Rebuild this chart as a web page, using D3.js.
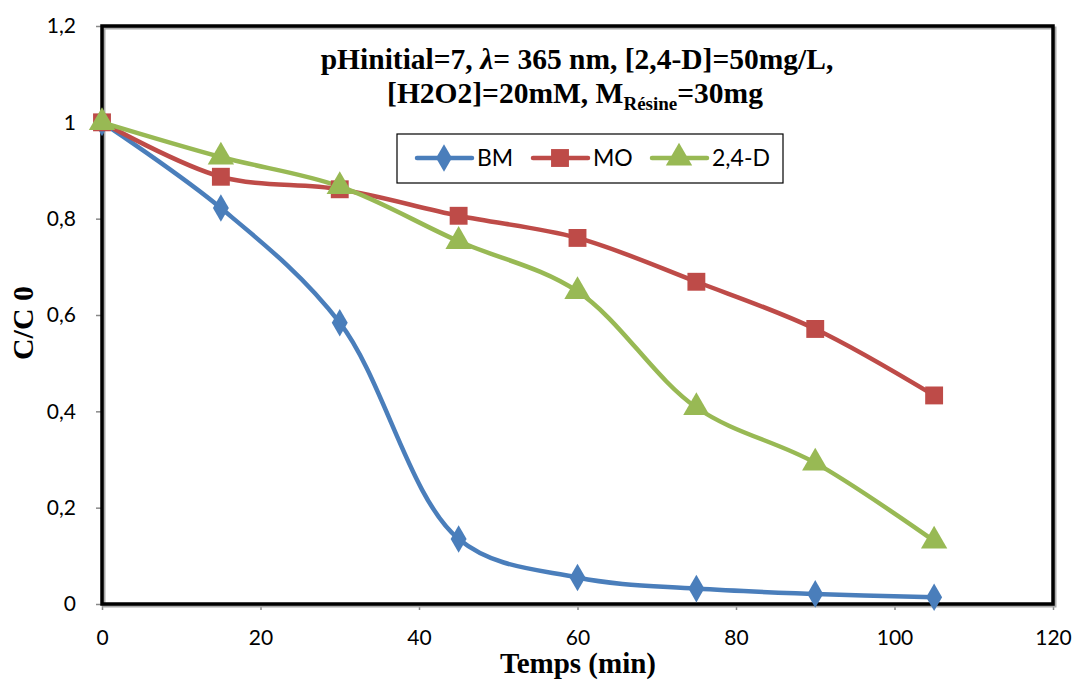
<!DOCTYPE html>
<html>
<head>
<meta charset="utf-8">
<script src="https://cdn.jsdelivr.net/npm/d3@7"></script>
<style>
body { margin: 0; background: #fff; }
svg { display: block; }
</style>
</head>
<body>
<svg id="chart"></svg>
<script>
// time points (min)
let temps = [0, 15, 30, 45, 60, 75, 90, 105]
// C/C0 for each pollutant
let bm = [1, 0.822, 0.584, 0.135, 0.055, 0.032, 0.021, 0.014]
let mo = [1, 0.887, 0.861, 0.806, 0.760, 0.669, 0.571, 0.433]
let dd = [1, 0.928, 0.867, 0.753, 0.649, 0.408, 0.293, 0.131]
let seriesNames = ['BM', 'MO', '2,4-D']
let xTicks = [0, 20, 40, 60, 80, 100, 120]
let yTicks = [0, 0.2, 0.4, 0.6, 0.8, 1, 1.2]

let width = 1077
let height = 681
let padLeft = 102, padRight = 1053, padTop = 26, padBottom = 604

let colors = ['#4A7EBB', '#BE4B48', '#98B954']
let shapes = [d3.symbolDiamond, d3.symbolSquare, d3.symbolTriangle]
let serif = '"Liberation Serif", "Times New Roman", serif'
let sans = 'Lato, "Open Sans", sans-serif'

let svg = d3.select('#chart').attr('width', width).attr('height', height)

let xScale = d3.scaleLinear().domain([0, 120]).range([padLeft, padRight])
let yScale = d3.scaleLinear().domain([0, 1.2]).range([padBottom, padTop])

let fmt = d => String(d).replace('.', ',')

// axes
let xAxis = d3.axisBottom(xScale).tickValues(xTicks).tickFormat(fmt).tickSize(6).tickPadding(20)
let gx = svg.append('g').attr('transform', 'translate(0,' + padBottom + ')').call(xAxis)
let yAxis = d3.axisLeft(yScale).tickValues(yTicks).tickFormat(fmt).tickSize(6).tickPadding(20)
let gy = svg.append('g').attr('transform', 'translate(' + padLeft + ',0)').call(yAxis)
;[gx, gy].forEach(g => {
    g.select('.domain').remove()
    g.selectAll('line').attr('stroke', '#888').attr('stroke-width', 1.5)
    g.selectAll('text').attr('font-family', sans).attr('font-size', 21).attr('fill', '#000')
})

// plot frame with faint shadow
svg.append('rect')
    .attr('x', padLeft + 2).attr('y', padTop + 2).attr('width', padRight - padLeft).attr('height', padBottom - padTop)
    .attr('fill', 'none').attr('stroke', '#aaa').attr('stroke-width', 3)
svg.append('rect')
    .attr('x', padLeft).attr('y', padTop).attr('width', padRight - padLeft).attr('height', padBottom - padTop)
    .attr('fill', 'none').attr('stroke', '#000').attr('stroke-width', 3.5)

// series
let allSeries = [bm, mo, dd]
let line = d3.line()
    .x((d, i) => xScale(temps[i]))
    .y(d => yScale(d))
    .curve(d3.curveCatmullRom.alpha(0.5))

allSeries.forEach((vals, k) => {
    svg.append('path')
        .datum(vals)
        .attr('d', line)
        .attr('fill', 'none')
        .attr('stroke', colors[k])
        .attr('stroke-width', 4.5)
        .attr('stroke-linejoin', 'round')
})
let markerSize = [220, 320, 300]
allSeries.forEach((vals, k) => {
    svg.selectAll('.m' + k)
        .data(vals)
        .enter()
        .append('path')
        .attr('class', 'm' + k)
        .attr('d', d3.symbol().type(shapes[k]).size(markerSize[k]))
        .attr('transform', (d, i) => 'translate(' + xScale(temps[i]) + ',' + yScale(d) + ')')
        .attr('fill', colors[k])
})

// title
let title = svg.append('text')
    .attr('x', 577).attr('y', 69)
    .attr('text-anchor', 'middle')
    .attr('font-family', serif)
    .attr('font-weight', 'bold').attr('font-size', 29.5)
title.append('tspan').text('pHinitial=7, ')
title.append('tspan').attr('font-style', 'italic').text('λ')
title.append('tspan').text('= 365 nm, [2,4-D]=50mg/L,')
let title2 = svg.append('text')
    .attr('x', 575).attr('y', 103)
    .attr('text-anchor', 'middle')
    .attr('font-family', serif)
    .attr('font-weight', 'bold').attr('font-size', 29.5)
title2.append('tspan').text('[H2O2]=20mM, M')
title2.append('tspan').attr('font-size', 19).attr('dy', 7).text('Résine')
title2.append('tspan').attr('dy', -7).text('=30mg')

// legend
let lg = svg.append('g')
lg.append('rect').attr('x', 397).attr('y', 134).attr('width', 386).attr('height', 49)
    .attr('fill', '#fff').attr('stroke', '#000').attr('stroke-width', 1.2)
let legX = [417, 533, 652]
seriesNames.forEach((name, k) => {
    let x0 = legX[k]
    lg.append('line').attr('x1', x0).attr('x2', x0 + 55).attr('y1', 158).attr('y2', 158)
        .attr('stroke', colors[k]).attr('stroke-width', 4.5).attr('stroke-linecap', 'round')
    lg.append('path').attr('d', d3.symbol().type(shapes[k]).size(markerSize[k]))
        .attr('transform', 'translate(' + (x0 + 27) + ',158)').attr('fill', colors[k])
    lg.append('text').attr('x', x0 + 60).attr('y', 166)
        .attr('font-family', sans).attr('font-size', 23)
        .text(name)
})

// axis titles
svg.append('text')
    .attr('x', 578).attr('y', 673)
    .attr('text-anchor', 'middle')
    .attr('font-family', serif)
    .attr('font-weight', 'bold').attr('font-size', 29)
    .text('Temps (min)')
svg.append('text')
    .attr('transform', 'translate(33,323) rotate(-90)')
    .attr('text-anchor', 'middle')
    .attr('font-family', serif)
    .attr('font-weight', 'bold').attr('font-size', 30)
    .text('C/C 0')
</script>
</body>
</html>
